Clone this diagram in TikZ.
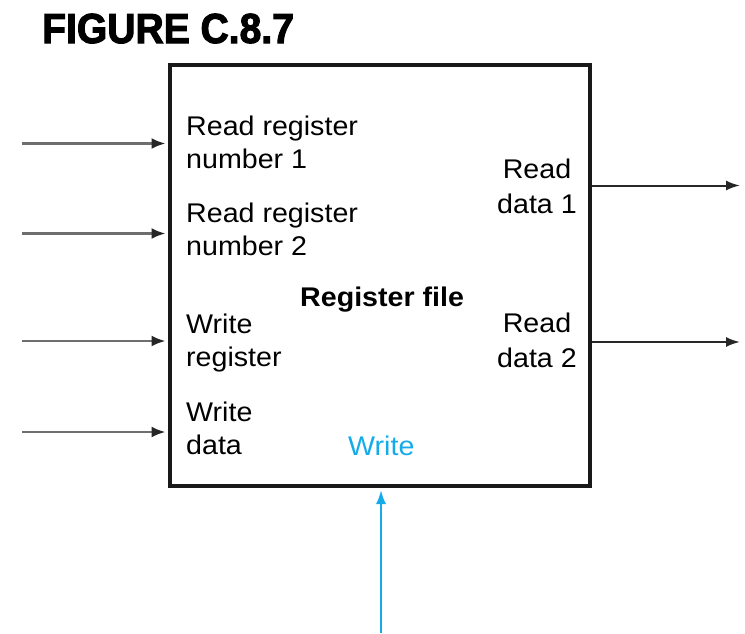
\documentclass[tikz,border=0pt]{standalone}
\usepackage{fontspec}
\setmainfont{Liberation Sans}[FakeStretch=1.06]
\newfontfamily\titlefont{Liberation Sans Bold}[FakeBold=2.5,FakeStretch=0.93]
\usetikzlibrary{arrows.meta}

\definecolor{inwirecol}{RGB}{110,110,110}
\definecolor{outwirecol}{RGB}{40,40,40}
\definecolor{ctrlcol}{RGB}{20,172,232}

\begin{document}
\begin{tikzpicture}[x=1pt,y=-1pt,
  port/.style={inner sep=0pt, anchor=base west, align=left,
    font=\fontsize{27}{33}\selectfont},
  outport/.style={inner sep=0pt, anchor=base, align=center,
    font=\fontsize{27}{35}\selectfont},
  inwire/.style={draw=inwirecol, line width=2.4pt, shorten >=2pt,
    -{Latex[length=14pt,width=11pt,color=black!85]}},
  outwire/.style={draw=outwirecol, line width=2pt,
    -{Latex[length=14pt,width=10pt,color=black!85]}},
  ctrlwire/.style={draw=ctrlcol, line width=2.2pt, shorten >=2pt,
    -{Latex[length=14pt,width=10pt]}},
]
\useasboundingbox (0,0) rectangle (745,633);

% caption
\node[inner sep=0pt, anchor=base west, font=\titlefont\fontsize{42}{42}\selectfont]
  (title) at (42,43) {FIGURE C.8.7};

% the register file block
\node[draw=black!90, line width=4pt, inner sep=0pt,
      minimum width=420pt, minimum height=421pt] (rf) at (379.5,275.5) {};
\node[inner sep=0pt, anchor=base west, font=\bfseries\fontsize{27}{33}\selectfont]
  (name) at (300,306) {Register file};

% input ports (anchored on the baseline of the last line)
\node[port] (rr1) at (186,168) {Read register\\number 1};
\node[port] (rr2) at (186,255) {Read register\\number 2};
\node[port] (wreg) at (186,366) {Write\\register};
\node[port] (wdat) at (186,454) {Write\\data};

% output ports
\node[outport] (rd1) at (537,213) {Read\\data 1};
\node[outport] (rd2) at (537,367) {Read\\data 2};

% write control
\node[inner sep=0pt, anchor=base west, text=ctrlcol,
      font=\fontsize{27}{33}\selectfont] (wctl) at (348,455) {Write};

% wire end points
\coordinate (i1) at (22,143.5);
\coordinate (i2) at (22,233.5);
\coordinate (i3) at (22,341);
\coordinate (i4) at (22,432);
\coordinate (o1) at (740,185.5);
\coordinate (o2) at (740,342);
\coordinate (w) at (381,633);

\draw[inwire] (i1) -- (i1 -| rf.west);
\draw[inwire] (i2) -- (i2 -| rf.west);
\draw[inwire] (i3) -- (i3 -| rf.west);
\draw[inwire] (i4) -- (i4 -| rf.west);
\draw[outwire] (o1 -| rf.east) -- (o1);
\draw[outwire] (o2 -| rf.east) -- (o2);
\draw[ctrlwire] (w) -- (w |- rf.south);
\end{tikzpicture}
\end{document}
